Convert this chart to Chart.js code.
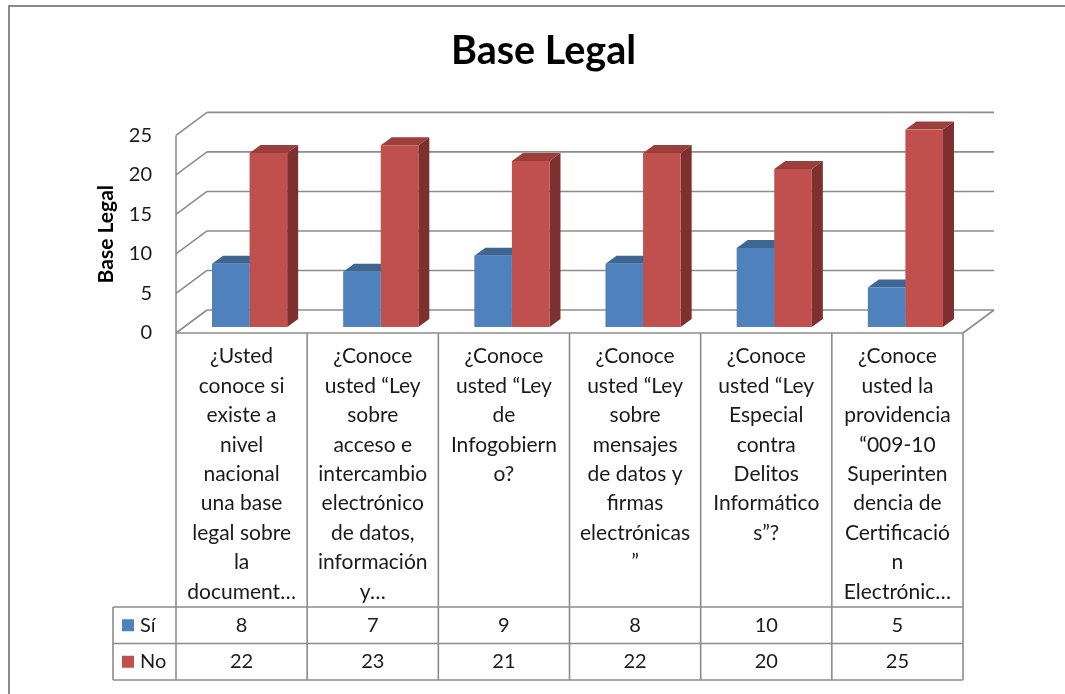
<!DOCTYPE html>
<html>
<head>
  <meta charset="utf-8">
  <script src="https://cdn.jsdelivr.net/npm/chart.js"></script>
  <style>
    html, body { margin: 0; padding: 0; background: #fff; }
  </style>
</head>
<body>
  <canvas id="baseLegal" width="1065" height="694"></canvas>

  <script>
    // data
    const categories = [
      ['¿Usted', 'conoce si', 'existe a', 'nivel', 'nacional', 'una base', 'legal sobre', 'la', 'document…'],
      ['¿Conoce', 'usted “Ley', 'sobre', 'acceso e', 'intercambio', 'electrónico', 'de datos,', 'información', 'y…'],
      ['¿Conoce', 'usted “Ley', 'de', 'Infogobiern', 'o?'],
      ['¿Conoce', 'usted “Ley', 'sobre', 'mensajes', 'de datos y', 'firmas', 'electrónicas', '”'],
      ['¿Conoce', 'usted “Ley', 'Especial', 'contra', 'Delitos', 'Informático', 's”?'],
      ['¿Conoce', 'usted la', 'providencia', '“009-10', 'Superinten', 'dencia de', 'Certificació', 'n', 'Electrónic…']
    ];
    const seriesNames = ['Sí', 'No'];
    const siValues = [8, 7, 9, 8, 10, 5];
    const noValues = [22, 23, 21, 22, 20, 25];
    const yTicks = [0, 5, 10, 15, 20, 25];

    const FONT = 'Lato, "Open Sans", sans-serif';
    const GRID = '#8c8c8c';
    // depth of the 3d box and of the bars
    const WALL_DX = 31, WALL_DY = -23;
    const BAR_DX = 8, BAR_DY = -6;
    const FACE_DX = 11, FACE_DY = -8;
    // table rows under the plot
    const HEAD_BOTTOM = 607, ROW_H = 36.5, KEY_LEFT = 113;

    const shades = [
      { front: '#4F81BD', top: '#3D6693', side: '#385D8A' },
      { front: '#C0504D', top: '#9B3F3C', side: '#7D302E' }
    ];

    function line(ctx, x1, y1, x2, y2) {
      ctx.beginPath();
      ctx.moveTo(x1, y1);
      ctx.lineTo(x2, y2);
      ctx.stroke();
    }

    const box3d = {
      id: 'box3d',
      beforeDraw(chart) {
        const ctx = chart.ctx;
        const a = chart.chartArea;
        const y = chart.scales.y;
        ctx.save();
        // outer frame
        ctx.strokeStyle = '#8a8a8a';
        ctx.lineWidth = 2;
        ctx.strokeRect(9, 6, 1100, 720);

        ctx.strokeStyle = GRID;
        ctx.lineWidth = 1.6;
        yTicks.forEach(v => {
          const py = y.getPixelForValue(v);
          // side wall diagonals and back wall grid lines
          line(ctx, a.left, py, a.left + WALL_DX, py + WALL_DY);
          line(ctx, a.left + WALL_DX, py + WALL_DY, a.right + WALL_DX, py + WALL_DY);
        });
        const y0 = y.getPixelForValue(0);
        const yTop = y.getPixelForValue(25);
        line(ctx, a.left, yTop, a.left, y0);
        // floor
        line(ctx, a.left, y0, a.right, y0);
        line(ctx, a.right, y0, a.right + WALL_DX, y0 + WALL_DY);

        // data table grid
        const colW = (a.right - a.left) / categories.length;
        for (let i = 0; i <= categories.length; i++) {
          const px = a.left + i * colW;
          line(ctx, px, y0, px, HEAD_BOTTOM + 2 * ROW_H);
        }
        for (let r = 0; r <= 2; r++) {
          line(ctx, KEY_LEFT, HEAD_BOTTOM + r * ROW_H, a.right, HEAD_BOTTOM + r * ROW_H);
        }
        line(ctx, KEY_LEFT, HEAD_BOTTOM, KEY_LEFT, HEAD_BOTTOM + 2 * ROW_H);
        ctx.restore();
      },
      beforeDatasetsDraw(chart) {
        const ctx = chart.ctx;
        ctx.save();
        ctx.translate(BAR_DX, BAR_DY);
        chart.data.datasets.forEach((ds, di) => {
          const meta = chart.getDatasetMeta(di);
          meta.data.forEach(bar => {
            const p = bar.getProps(['x', 'y', 'base', 'width'], true);
            const l = p.x - p.width / 2, r = p.x + p.width / 2;
            ctx.fillStyle = shades[di].top;
            ctx.beginPath();
            ctx.moveTo(l, p.y);
            ctx.lineTo(l + FACE_DX, p.y + FACE_DY);
            ctx.lineTo(r + FACE_DX, p.y + FACE_DY);
            ctx.lineTo(r, p.y);
            ctx.closePath();
            ctx.fill();
            ctx.fillStyle = shades[di].side;
            ctx.beginPath();
            ctx.moveTo(r, p.y);
            ctx.lineTo(r + FACE_DX, p.y + FACE_DY);
            ctx.lineTo(r + FACE_DX, p.base + FACE_DY);
            ctx.lineTo(r, p.base);
            ctx.closePath();
            ctx.fill();
          });
        });
      },
      afterDatasetsDraw(chart) {
        chart.ctx.restore();
      },
      afterDraw(chart) {
        const ctx = chart.ctx;
        const x = chart.scales.x;
        ctx.save();
        ctx.font = '20px ' + FONT;
        ctx.textBaseline = 'middle';
        chart.data.datasets.forEach((ds, di) => {
          const cy = HEAD_BOTTOM + (di + 0.5) * ROW_H;
          ctx.fillStyle = ds.backgroundColor;
          ctx.fillRect(122, cy - 6, 12, 12);
          ctx.fillStyle = '#1a1a1a';
          ctx.textAlign = 'left';
          ctx.fillText(ds.label, 140, cy);
          ctx.textAlign = 'center';
          ds.data.forEach((v, i) => ctx.fillText(String(v), x.getPixelForValue(i), cy));
        });
        ctx.restore();
      }
    };

    new Chart(document.getElementById('baseLegal'), {
      type: 'bar',
      data: {
        labels: categories,
        datasets: [
          { label: seriesNames[0], data: siValues, backgroundColor: shades[0].front },
          { label: seriesNames[1], data: noValues, backgroundColor: shades[1].front }
        ]
      },
      options: {
        responsive: false,
        animation: false,
        devicePixelRatio: 1,
        layout: { padding: { left: 22, right: 0, top: 0, bottom: 0 } },
        datasets: { bar: { categoryPercentage: 0.573, barPercentage: 1 } },
        plugins: {
          legend: { display: false },
          tooltip: { enabled: false },
          title: {
            display: true,
            text: 'Base Legal',
            color: '#000',
            font: { family: FONT, size: 39.5, weight: 'bold' },
            padding: { top: 28, bottom: 60 }
          }
        },
        scales: {
          x: {
            grid: { display: false },
            border: { display: false },
            ticks: {
              autoSkip: false,
              maxRotation: 0,
              minRotation: 0,
              padding: 1,
              color: '#1a1a1a',
              font: { family: FONT, size: 21, lineHeight: 1.4 }
            },
            afterFit(s) { s.height = 694 - 333; }
          },
          y: {
            min: 0,
            max: 25,
            grid: { display: false },
            border: { display: false },
            ticks: {
              stepSize: 5,
              padding: 16,
              color: '#1a1a1a',
              font: { family: FONT, size: 20 }
            },
            title: {
              display: true,
              text: 'Base Legal',
              color: '#000',
              font: { family: FONT, size: 21, weight: 'bold' },
              padding: { top: 72, bottom: 0 }
            },
            afterFit(s) { s.width = 176 - 22; }
          },
          // empty axis that keeps the plot clear of the right margin
          yRight: {
            position: 'right',
            display: true,
            grid: { display: false },
            border: { display: false },
            ticks: { display: false },
            afterFit(s) { s.width = 1065 - 963; }
          }
        }
      },
      plugins: [box3d]
    });
  </script>
</body>
</html>
